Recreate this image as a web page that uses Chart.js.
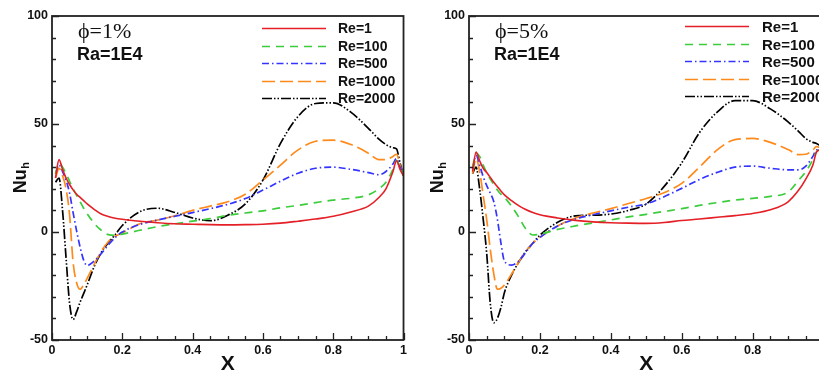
<!DOCTYPE html>
<html>
<head>
<meta charset="utf-8">
<script src="https://cdn.jsdelivr.net/npm/chart.js@4.4.0/dist/chart.umd.min.js"></script>
<style>
  html, body { margin: 0; padding: 0; background: #fff; overflow: hidden; }
  body { width: 819px; height: 371px; position: relative; }
  canvas { position: absolute; top: 0; }
  #c1 { left: 0; }
  #c2 { left: 410px; }
</style>
</head>
<body>
<canvas id="c1" width="410" height="371"></canvas>
<canvas id="c2" width="420" height="371"></canvas>
<script>
// data: local Nusselt number along the hot wall
const X_GRID = [0.01, 0.02, 0.03, 0.04, 0.05, 0.06, 0.07, 0.08, 0.09, 0.1,
  0.12, 0.14, 0.16, 0.18, 0.2,
  0.25, 0.3, 0.35, 0.4, 0.45, 0.5, 0.55, 0.6, 0.65, 0.7, 0.75, 0.8, 0.85, 0.9,
  0.93, 0.95, 0.97, 0.98, 0.99, 1.0];

const RE_LABELS = ['Re=1', 'Re=100', 'Re=500', 'Re=1000', 'Re=2000'];
const X_TICK_LABELS = ['0', '0.2', '0.4', '0.6', '0.8', '1'];
const Y_TICK_LABELS = ['-50', '0', '50', '100'];

// phi = 1%
const NU_RE1_P1 = [25, 33.5, 29, 25, 22, 19.5, 17.5, 16, 14.5, 13,
  10.5, 8.3, 7.2, 6.4, 5.9,
  5, 4.3, 3.8, 3.6, 3.4, 3.3, 3.4, 3.6, 4.1, 5, 6, 7.3, 9.3, 12,
  16, 20, 28, 33, 29, 26];
const NU_RE100_P1 = [27, 32, 30, 27, 23.5, 20, 17, 14, 11, 8.5,
  4, 0.8, -1.2, -1.5, -1,
  0.8, 2.5, 3.8, 5, 6.2, 7.7, 8.8, 9.8, 11.2, 12.3, 13.6, 14.8, 15.6, 17.2,
  20, 23, 29, 33, 30, 27];
const NU_RE500_P1 = [27, 31, 28, 24, 18, 9, 0.5, -7, -13, -15.5,
  -13.5, -10, -6, -2.5, 0,
  3.5, 5.5, 7.3, 9, 10.8, 12.8, 15.5, 19.4, 23.5, 27.2, 29.5, 30, 29, 27.5,
  26.5, 28, 31.5, 34, 30, 27];
const NU_RE1000_P1 = [25, 29.5, 26, 20, 8, -14, -23.5, -26.5, -24.5, -21.5,
  -15, -9, -4.5, -2, -0.5,
  3.8, 5.5, 7.5, 10, 12, 14, 17.5, 24, 31, 38, 42, 42.5, 40.5, 36.5,
  33.5, 33.5, 35, 36, 31, 26];
const NU_RE2000_P1 = [23, 25, 10, -12, -33, -40.5, -37, -32.5, -28.5, -24.5,
  -16, -9.5, -5, -1.2, 3,
  9.4, 11, 9, 6.5, 5.2, 7.8, 13, 24, 41, 53.5, 59.5, 59.8, 55.5, 48,
  43, 40.5, 39, 38.5, 32, 26];

// phi = 5%
const NU_RE1_P5 = [28, 37, 33, 29.5, 27.5, 25.3, 23, 21, 19, 17.2,
  14.5, 12.2, 10.4, 9, 8,
  6.5, 5.4, 4.7, 4.3, 4.1, 4, 4.4, 5.3, 6, 6.8, 7.6, 8.6, 10.3, 14,
  19.4, 24.5, 31, 37, 38, 38];
const NU_RE100_P5 = [30, 36.5, 35, 31, 27.5, 24.5, 22, 19.5, 17.5, 16,
  12, 7, 1.5, -1.4, -1,
  1.2, 2.8, 4.2, 5.6, 7, 8.2, 9.5, 10.8, 12.3, 13.6, 14.8, 15.6, 16.5, 18.5,
  24, 28, 33.5, 37, 38, 38];
const NU_RE500_P5 = [29, 35.5, 31, 25.6, 21.5, 18, 14, 6, -5, -13.5,
  -15.3, -13.5, -9.5, -5.2, -2.5,
  2.8, 6, 8, 9.8, 11.5, 13, 16.3, 20.2, 24.3, 27.6, 30, 30.5, 29.5, 28.8,
  28.8, 30.5, 35, 38, 38, 38];
const NU_RE1000_P5 = [27, 34, 28, 17, 5.6, -8, -19.5, -26.5, -26, -24.5,
  -19.5, -14, -9, -5.2, -2.5,
  2.8, 6.5, 8.8, 10.8, 13.2, 15.5, 18.2, 22.5, 30, 38, 42.8, 43.3, 41.5, 38.2,
  35.8, 36, 38, 39.5, 39, 38];
const NU_RE2000_P5 = [27, 30, 20, 6, -10, -33, -42, -40, -35, -28,
  -20, -14, -9, -5.2, -1.5,
  4.5, 7.5, 7.8, 8.3, 10, 13, 21, 32, 46, 55.5, 60.8, 60.8, 57, 51,
  46.5, 43.3, 41.5, 41, 40, 38];

// line styles
const RE_COLORS = ['#e41f26', '#3ccc3c', '#3434ff', '#ff8a1c', '#000000'];
const RE_DASHES = [[], [8, 6], [7, 3, 1.5, 3], [13, 5], [10, 2, 1.5, 2, 1.5, 2]];

const SANS = '"Liberation Sans", Arial, sans-serif';
Chart.defaults.font.family = SANS;
Chart.defaults.color = '#111';

const isMajorX = v => X_TICK_LABELS.includes(String(Math.round(v * 100) / 100));
const isMajorY = v => Y_TICK_LABELS.includes(String(Math.round(v)));

// frame, inward ticks, axis titles, annotations and legend
const decor = {
  id: 'decor',
  afterDraw(chart, args, o) {
    const { ctx, chartArea: a, scales: { x, y } } = chart;
    ctx.save();
    ctx.strokeStyle = '#222';
    ctx.lineWidth = 1.3;
    ctx.beginPath();
    x.ticks.forEach(t => {
      const px = Math.round(x.getPixelForValue(t.value)) + 0.5;
      const len = isMajorX(t.value) ? 7 : 4;
      ctx.moveTo(px, a.bottom);
      ctx.lineTo(px, a.bottom - len);
    });
    y.ticks.forEach(t => {
      const py = Math.round(y.getPixelForValue(t.value)) + 0.5;
      const len = isMajorY(t.value) ? 7 : 4;
      ctx.moveTo(a.left, py);
      ctx.lineTo(a.left + len, py);
    });
    ctx.stroke();
    ctx.lineWidth = 1.8;
    ctx.strokeRect(a.left, a.top, a.right - a.left, a.bottom - a.top);

    // axis titles
    ctx.fillStyle = '#111';
    ctx.textAlign = 'center';
    ctx.textBaseline = 'alphabetic';
    ctx.font = 'bold 21px ' + SANS;
    ctx.fillText('X', (a.left + a.right) / 2, 370);

    ctx.save();
    ctx.translate(a.left - 26, (a.top + a.bottom) / 2);
    ctx.rotate(-Math.PI / 2);
    ctx.font = 'bold 18px ' + SANS;
    const wNu = ctx.measureText('Nu').width;
    ctx.font = 'bold 11px ' + SANS;
    const wH = ctx.measureText('h').width;
    const x0 = -(wNu + wH) / 2;
    ctx.textAlign = 'left';
    ctx.font = 'bold 18px ' + SANS;
    ctx.fillText('Nu', x0, 0);
    ctx.font = 'bold 11px ' + SANS;
    ctx.fillText('h', x0 + wNu + 0.5, 3);
    ctx.restore();

    // annotation
    ctx.textAlign = 'left';
    ctx.font = '22px "Liberation Serif", "Times New Roman", serif';
    ctx.fillText(o.phi, a.left + 26, 38);
    ctx.font = 'bold 18px ' + SANS;
    ctx.fillText('Ra=1E4', a.left + 25, 60);

    // legend
    ctx.textBaseline = 'middle';
    chart.data.datasets.forEach((ds, i) => {
      const ly = Math.round(a.top + o.legY + i * 17.5) + 0.5;
      const lx = a.left + o.legX;
      ctx.strokeStyle = ds.borderColor;
      ctx.lineWidth = ds.borderWidth;
      ctx.setLineDash(ds.borderDash);
      ctx.beginPath();
      ctx.moveTo(lx, ly);
      ctx.lineTo(lx + 64, ly);
      ctx.stroke();
      ctx.setLineDash([]);
      ctx.font = 'bold ' + o.legFont + 'px ' + SANS;
      ctx.fillText(ds.label, lx + o.textGap, ly + 1);
    });
    ctx.restore();
  }
};

function makePanel(id, series, phi, axisW, padRight, legX, legY, textGap, legFont) {
  const datasets = series.map((vals, i) => ({
    label: RE_LABELS[i],
    data: X_GRID.map((xv, k) => ({ x: xv, y: vals[k] })),
    borderColor: RE_COLORS[i],
    borderDash: RE_DASHES[i],
    borderWidth: i === 0 ? 1.6 : 1.7,
    pointRadius: 0,
    fill: false,
    cubicInterpolationMode: 'monotone'
  }));
  return new Chart(document.getElementById(id), {
    type: 'line',
    data: { datasets: datasets },
    plugins: [decor],
    options: {
      responsive: false,
      animation: false,
      layout: { padding: { left: 0, top: 16, right: padRight, bottom: 0 } },
      plugins: {
        legend: { display: false },
        tooltip: { enabled: false },
        decor: { phi: phi, legX: legX, legY: legY, textGap: textGap, legFont: legFont }
      },
      scales: {
        x: {
          type: 'linear', min: 0, max: 1,
          grid: { display: false, drawTicks: false },
          border: { display: false },
          afterFit: s => { s.height = 31; },
          ticks: {
            stepSize: 0.05, autoSkip: false, maxRotation: 0, padding: 3,
            font: { size: 12.5, weight: 'bold' },
            callback: v => isMajorX(v) ? String(Math.round(v * 100) / 100) : ''
          }
        },
        y: {
          min: -50, max: 100,
          grid: { display: false, drawTicks: false },
          border: { display: false },
          afterFit: s => { s.width = axisW; },
          ticks: {
            stepSize: 10, autoSkip: false, padding: 4,
            font: { size: 12.5, weight: 'bold' },
            callback: v => isMajorY(v) ? String(Math.round(v)) : ''
          }
        }
      }
    }
  });
}

makePanel('c1', [NU_RE1_P1, NU_RE100_P1, NU_RE500_P1, NU_RE1000_P1, NU_RE2000_P1],
  '\u03D5=1%', 52, 4, 210, 12, 76, 14);
makePanel('c2', [NU_RE1_P5, NU_RE100_P5, NU_RE500_P5, NU_RE1000_P5, NU_RE2000_P5],
  '\u03D5=5%', 59, 5, 216, 10, 77, 15);
</script>
</body>
</html>
